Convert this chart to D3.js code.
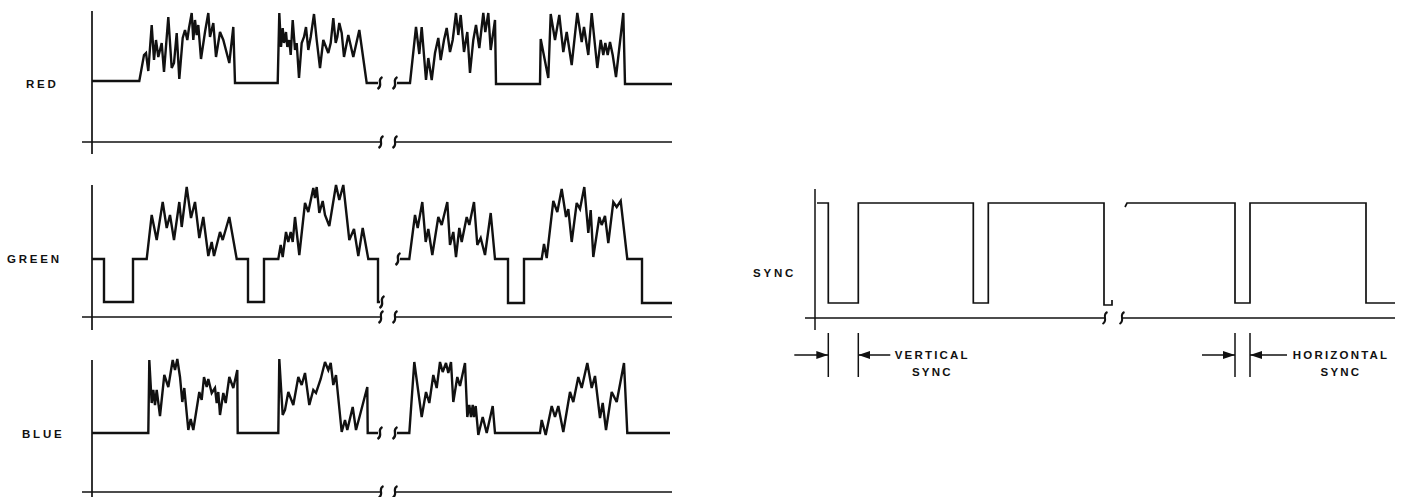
<!DOCTYPE html>
<html>
<head>
<meta charset="utf-8">
<script src="https://cdn.jsdelivr.net/npm/d3@7"></script>
<style>
    html, body { margin: 0; padding: 0; background: #fff; }
    svg { display: block; }
    .lbl { font-family: "Liberation Sans", Arial, sans-serif; font-weight: bold; fill: #111; }
</style>
</head>
<body>
<svg id="chart" width="1403" height="497"></svg>
<script>
// time runs 0..580 across each strip, level is height above the strip's axis
var panelLabels = ["RED", "GREEN", "BLUE"];
var syncLabel = "SYNC";

var redA = [[0,61],[47.3,61],[52,87],[54,89],[56.3,71],[59.7,117],[62,82],[64,102],[66.3,85],[69.7,99],[72,70],
    [76.3,125],[79.7,74],[82,79],[84.7,109],[87.3,63],[90.7,104],[93,112],[95.3,102],[97,114],[99.7,129],[101.3,102],
    [103,122],[104.7,107],[106.3,117],[109,83],[113,110],[116.3,129],[118,105],[121.3,119],[124,85],[128,110],
    [131.3,102],[137.3,79],[141.3,115],[143,59],[185.7,59],[187.3,129],[189,95],[190.7,114],[192,99],[194,110],
    [195.3,95],[197.3,102],[198.7,87],[200.7,122],[203,92],[204.7,99],[207,64],[209.7,99],[212,105],[214,115],
    [216.3,92],[218.7,105],[222,128],[224.7,102],[228,74],[231.3,102],[234,95],[236.3,89],[238.7,99],[241.3,124],
    [243.7,99],[245.3,105],[247.3,119],[249.7,109],[252,85],[256.3,107],[261.3,85],[267.3,112],[274.7,59],[286,59]];
var redB = [[305,59],[318,59],[324,115],[327.3,88],[329.7,115],[334,62],[336.3,84],[339.7,62],[343,89],[346.3,104],
    [348.7,82],[352,102],[354.7,114],[358,90],[360.7,102],[364,129],[366.3,107],[368.7,127],[372,90],[375.3,110],
    [378,69],[381.3,102],[384,117],[387.3,94],[391.3,129],[393.3,110],[396.3,129],[398.7,92],[403,122],[404,58],
    [448,58],[448.7,103],[456.3,64],[458.7,128],[463,102],[467.3,127],[471.3,90],[474.7,110],[479.7,77],[485.3,129],
    [489.7,100],[492,115],[496.3,87],[499.7,129],[505.3,74],[508.7,102],[511.3,87],[513.3,99],[515.7,87],[518,100],
    [520.7,87],[524,65],[531.3,129],[533,58],[580,58]];

var greenA = [[0,58],[12,58],[12,15],[41,15],[41,58],[54.7,58],[59.7,102],[64.7,77],[70.7,115],[74.7,89],[78,102],
    [82,77],[87.3,115],[89.7,90],[94.7,130],[99,99],[103,115],[107.3,79],[111.3,100],[116.3,61],[119.7,75],[122,61],
    [128,85],[130.7,77],[137.3,100],[144.7,58],[156,58],[156,15],[172,15],[172,58],[186.3,58],[188.7,72],[190.7,60],
    [194,85],[196.3,75],[198.7,85],[200.7,75],[203,100],[207.3,62],[213,114],[216.3,105],[221.3,129],[223,119],
    [224.7,130],[227.3,104],[230.7,116],[233,102],[237.3,91],[244,132],[247.3,117],[251.3,132],[257.3,77],[262,88],
    [266.3,61],[270.7,89],[276.3,58],[286,58],[286,15],[288,15]];
var greenB = [[308,58],[317.3,58],[323,102],[325.7,89],[330.3,115],[333.7,75],[336.3,88],[340.3,62],[346.3,100],
    [349.7,92],[355.3,115],[358,72],[361.3,85],[364,60],[367.3,89],[369.7,75],[374.7,100],[377.3,92],[382,115],
    [385.3,72],[388.7,79],[393,62],[398.7,104],[403,58],[416,58],[416,14],[432,14],[432,58],[449.7,58],[452,73],
    [454.7,59],[461.3,116],[465.3,105],[469.7,128],[474,100],[476.3,108],[479.7,75],[484.7,114],[488,108],
    [492.3,130],[496.3,84],[498.7,107],[501.3,60],[507.3,100],[509.7,92],[513,101],[516.3,74],[521.3,115],
    [524.7,110],[528.7,116],[535.3,58],[550,58],[550,14],[580,14]];

var blueA = [[0,59],[56.3,59],[57.3,132],[59.7,89],[61.3,102],[63,87],[64.7,102],[68,76],[72.3,117],[76.3,105],
    [80.7,132],[83,122],[85.3,133],[88,115],[90.3,90],[92.3,104],[96.3,62],[98.7,73],[101.3,62],[107.3,100],
    [109.7,92],[112,115],[114.7,105],[116.3,113],[119.7,99],[123,104],[124.7,89],[126.3,100],[128,77],[131.3,99],
    [133.7,89],[137.3,115],[141.3,104],[145.3,122],[145.7,59],[186.3,59],[187.3,133],[190.7,77],[193,82],[196.3,100],
    [201.3,87],[206.3,115],[209.7,107],[213,119],[217.3,87],[221.3,102],[224,99],[228.7,113],[233,130],[236.3,122],
    [238.7,129],[241.3,107],[244,117],[249.7,60],[253,72],[255.3,62],[260.7,85],[264,62],[268,77],[275.3,105],
    [275.7,59],[286,59]];
var blueB = [[305,59],[317.3,59],[322.3,130],[329.7,75],[334,100],[337.3,89],[341.3,117],[344.7,104],[348,130],
    [350.7,120],[354,129],[356.3,119],[359,130],[361.3,90],[365.3,115],[368,106],[373,129],[375.3,75],[377.3,87],
    [379,75],[380.7,87],[382,75],[383.7,86],[386.3,57],[390.7,75],[394.7,59],[400.7,86],[403,59],[448,59],
    [449.7,72],[453.7,57],[459.7,86],[463,75],[466.3,86],[471.3,60],[478,100],[481.3,90],[486.3,115],[489.7,104],
    [495.3,129],[499.7,104],[503,116],[508,74],[510.7,89],[514,62],[519.7,100],[524.7,90],[532,129],[535.3,59],[578,59]];

var syncA = [[2,115],[13.3,115],[13.3,15],[43.3,15],[43.3,115],[158.3,115],[158.3,15],[173.3,15],[173.3,115],
    [289,115],[289,13],[297,13],[297,18]];
var syncB = [[310,111],[312,115],[420,115],[420,15],[435,15],[435,115],[551,115],[551,15],[580,15]];

var rgbBreaks = [289, 303];
var syncBreaks = [290, 307];
var verticalSync = [13.3, 43.3];
var horizontalSync = [420, 435];
var noteLabels = [["VERTICAL", "SYNC"], ["HORIZONTAL", "SYNC"]];

var svg = d3.select("#chart"),
    ink = "#111";

var x = d3.scaleLinear().domain([0, 580]).range([92, 672]);
var xs = d3.scaleLinear().domain([0, 580]).range([815, 1395]);

svg.append("defs").append("marker")
    .attr("id", "head")
    .attr("viewBox", "0 0 12 8")
    .attr("refX", 12).attr("refY", 4)
    .attr("markerWidth", 12).attr("markerHeight", 8)
    .attr("markerUnits", "userSpaceOnUse")
    .attr("orient", "auto")
    .append("path")
    .attr("d", "M0,0L12,4L0,8z")
    .attr("fill", ink);

function squiggle(cx, cy) {
    return "M" + (cx + 2.5) + "," + (cy - 6) +
        "C" + (cx - 4) + "," + (cy - 3) + " " + (cx + 4) + "," + (cy + 2) + " " + (cx - 2.5) + "," + (cy + 6);
}

function drawStrip(p) {
    var g = svg.append("g"),
        xx = p.x,
        y = d3.scaleLinear().domain([0, 130]).range([p.base, p.base - 130]);

    // axes
    g.append("line")
        .attr("x1", xx(0)).attr("x2", xx(0))
        .attr("y1", y(p.axisTop)).attr("y2", y(p.axisBottom))
        .attr("stroke", ink).attr("stroke-width", p.axisWidth);
    g.append("line")
        .attr("x1", xx(-10)).attr("x2", xx(p.breaks[0]))
        .attr("y1", y(0)).attr("y2", y(0))
        .attr("stroke", ink).attr("stroke-width", p.axisWidth);
    g.append("line")
        .attr("x1", xx(p.breaks[1])).attr("x2", xx(580))
        .attr("y1", y(0)).attr("y2", y(0))
        .attr("stroke", ink).attr("stroke-width", p.axisWidth);
    p.breaks.forEach(function (b) {
        g.append("path")
            .attr("d", squiggle(xx(b), y(0)))
            .attr("fill", "none").attr("stroke", ink).attr("stroke-width", p.axisWidth + 0.5);
    });

    // signal
    var line = d3.line()
        .x(function (d) { return xx(d[0]); })
        .y(function (d) { return y(d[1]); });

    p.data.forEach(function (seg) {
        g.append("path")
            .datum(seg)
            .attr("d", line)
            .attr("fill", "none")
            .attr("stroke", ink)
            .attr("stroke-width", p.lineWidth)
            .attr("stroke-linejoin", "miter")
            .attr("stroke-miterlimit", 3);
    });
    // break marks on the signal itself
    var end = p.data[0][p.data[0].length - 1],
        start = p.data[1][0];
    if (p.hooks) {
        g.append("path")
            .attr("d", squiggle(xx(end[0]) + 2, y(end[1])))
            .attr("fill", "none").attr("stroke", ink).attr("stroke-width", p.lineWidth);
        g.append("path")
            .attr("d", squiggle(xx(start[0]) - 2, y(start[1])))
            .attr("fill", "none").attr("stroke", ink).attr("stroke-width", p.lineWidth);
    }

    g.append("text")
        .attr("class", "lbl")
        .attr("x", p.labelX)
        .attr("y", y(p.labelLevel) + 4.5)
        .attr("font-size", 11.5)
        .attr("letter-spacing", 2.8)
        .text(p.name);

    return y;
}

var rgb = [
    { name: panelLabels[0], data: [redA, redB], base: 142, axisTop: 131, axisBottom: -12, labelX: 26, labelLevel: 59 },
    { name: panelLabels[1], data: [greenA, greenB], base: 317, axisTop: 132, axisBottom: -13, labelX: 7, labelLevel: 59 },
    { name: panelLabels[2], data: [blueA, blueB], base: 492, axisTop: 132, axisBottom: -10, labelX: 22, labelLevel: 59 }
];

rgb.forEach(function (p) {
    p.x = x;
    p.breaks = rgbBreaks;
    p.axisWidth = 1.7;
    p.lineWidth = 2.4;
    p.hooks = true;
    drawStrip(p);
});

var ySync = drawStrip({
    name: syncLabel, data: [syncA, syncB], base: 318, axisTop: 129, axisBottom: -12,
    labelX: 753, labelLevel: 46, x: xs, breaks: syncBreaks, axisWidth: 1.5, lineWidth: 1.7, hooks: false
});

// pulse width call-outs under the sync strip
function callout(marks, gapIn, gapOut, textGap, words) {
    var g = svg.append("g");
    marks.forEach(function (m) {
        g.append("line")
            .attr("x1", xs(m)).attr("x2", xs(m))
            .attr("y1", ySync(-15)).attr("y2", ySync(-59))
            .attr("stroke", ink).attr("stroke-width", 1.5);
    });
    g.append("line")
        .attr("x1", xs(marks[0] - gapIn)).attr("x2", xs(marks[0]))
        .attr("y1", ySync(-37)).attr("y2", ySync(-37))
        .attr("stroke", ink).attr("stroke-width", 1.4)
        .attr("marker-end", "url(#head)");
    g.append("line")
        .attr("x1", xs(marks[1] + gapOut)).attr("x2", xs(marks[1]))
        .attr("y1", ySync(-37)).attr("y2", ySync(-37))
        .attr("stroke", ink).attr("stroke-width", 1.4)
        .attr("marker-end", "url(#head)");
    var cx = xs(marks[1] + textGap);
    var t = g.append("text")
        .attr("class", "lbl")
        .attr("font-size", 11.5)
        .attr("letter-spacing", 2.2)
        .attr("text-anchor", "middle");
    t.append("tspan").attr("x", cx).attr("y", ySync(-41.3)).text(words[0]);
    t.append("tspan").attr("x", cx).attr("y", ySync(-57.7)).text(words[1]);
}

callout(verticalSync, 34, 32, 74, noteLabels[0]);
callout(horizontalSync, 33, 37, 91, noteLabels[1]);
</script>
</body>
</html>
